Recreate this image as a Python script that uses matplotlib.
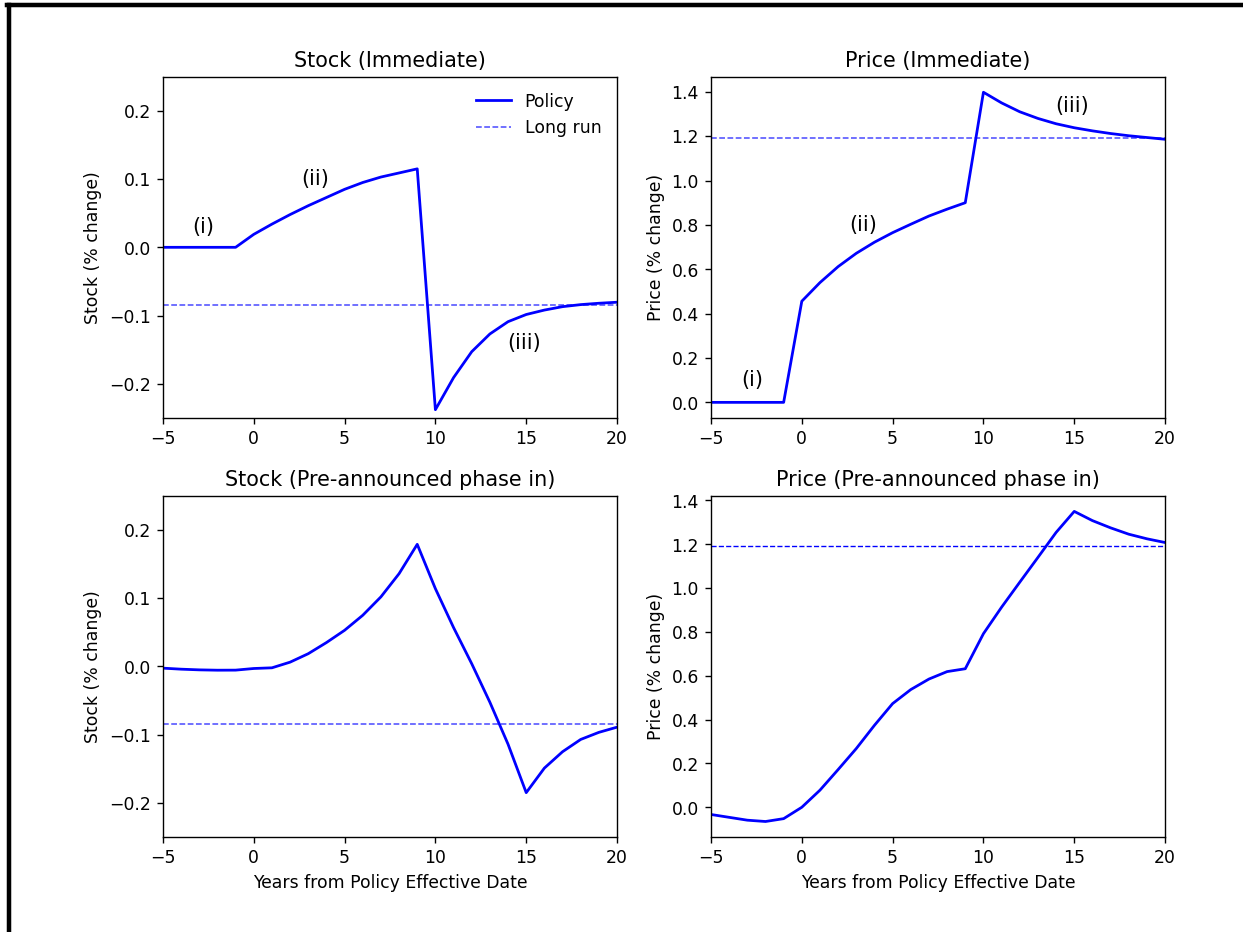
import matplotlib
matplotlib.use("Agg")
import matplotlib.pyplot as plt
from matplotlib.lines import Line2D
import numpy as np

years = np.arange(-5, 21)

# Immediate policy
stock_imm = [0, 0, 0, 0, 0,
             0.019, 0.034, 0.048, 0.061, 0.073, 0.085, 0.095, 0.103, 0.109, 0.115,
             -0.238, -0.191, -0.153, -0.127, -0.109, -0.0985, -0.092, -0.087, -0.084, -0.082, -0.0805]
price_imm = [0, 0, 0, 0, 0,
             0.456, 0.54, 0.612, 0.672, 0.722, 0.765, 0.803, 0.84, 0.871, 0.90,
             1.398, 1.35, 1.31, 1.28, 1.256, 1.238, 1.224, 1.212, 1.202, 1.194, 1.186]

# Pre-announced phase in
stock_pre = [-0.0025, -0.004, -0.005, -0.0055, -0.0054,
             -0.003, -0.002, 0.0063, 0.0187, 0.035, 0.053, 0.075, 0.102, 0.136, 0.179,
             0.114, 0.057, 0.004, -0.0525, -0.114, -0.185, -0.149, -0.125, -0.107, -0.0966, -0.089]
price_pre = [-0.033, -0.046, -0.059, -0.065, -0.052,
             0.0, 0.078, 0.172, 0.268, 0.374, 0.473, 0.537, 0.585, 0.619, 0.632,
             0.792, 0.913, 1.027, 1.14, 1.254, 1.35, 1.308, 1.275, 1.246, 1.225, 1.208]

stock_lr = -0.085
price_lr = 1.193

xlab = "Years from Policy Effective Date"

fig = plt.figure(figsize=(10, 7.5), dpi=124.3)

left1, left2, w = 0.1311, 0.572, 0.3653
bot1, bot2, h = 0.5515, 0.1019, 0.3659

ax1 = fig.add_axes([left1, bot1, w, h])
ax2 = fig.add_axes([left2, bot1, w, h])
ax3 = fig.add_axes([left1, bot2, w, h])
ax4 = fig.add_axes([left2, bot2, w, h])

# top left
ax1.plot(years, stock_imm, color="blue", lw=1.6, label="Policy")
ax1.axhline(stock_lr, color="blue", ls="--", lw=0.9, alpha=0.7, label="Long run")
ax1.set_ylim(-0.25, 0.25)
ax1.set_title("Stock (Immediate)")
ax1.set_ylabel("Stock (% change)")
ax1.text(-2.8, 0.03, "(i)", fontsize=12, ha="center", va="center")
ax1.text(3.4, 0.1, "(ii)", fontsize=12, ha="center", va="center")
ax1.text(14.9, -0.14, "(iii)", fontsize=12, ha="center", va="center")
ax1.legend(loc="upper right", frameon=False)

# top right
ax2.plot(years, price_imm, color="blue", lw=1.6)
ax2.axhline(price_lr, color="blue", ls="--", lw=0.9, alpha=0.7)
ax2.set_title("Price (Immediate)")
ax2.set_ylabel("Price (% change)")
ax2.text(-2.75, 0.1, "(i)", fontsize=12, ha="center", va="center")
ax2.text(3.4, 0.8, "(ii)", fontsize=12, ha="center", va="center")
ax2.text(14.9, 1.335, "(iii)", fontsize=12, ha="center", va="center")

# bottom left
ax3.plot(years, stock_pre, color="blue", lw=1.6)
ax3.axhline(stock_lr, color="blue", ls="--", lw=0.9, alpha=0.7)
ax3.set_ylim(-0.25, 0.25)
ax3.set_title("Stock (Pre-announced phase in)")
ax3.set_ylabel("Stock (% change)")
ax3.set_xlabel(xlab)

# bottom right
ax4.plot(years, price_pre, color="blue", lw=1.6)
ax4.axhline(price_lr, color="blue", ls="--", lw=0.8)
ax4.set_title("Price (Pre-announced phase in)")
ax4.set_ylabel("Price (% change)")
ax4.set_xlabel(xlab)

for ax in [ax1, ax2, ax3, ax4]:
    ax.set_xlim(-5, 20)
    ax.set_xticks([-5, 0, 5, 10, 15, 20])

# black frame on left and top edges
fig.add_artist(Line2D([0.0076, 0.0076], [0, 0.9946], transform=fig.transFigure, color="black", lw=2.6))
fig.add_artist(Line2D([0.0056, 1.0], [0.9946, 0.9946], transform=fig.transFigure, color="black", lw=2.6))

fig.savefig("out.png", dpi=124.3)
